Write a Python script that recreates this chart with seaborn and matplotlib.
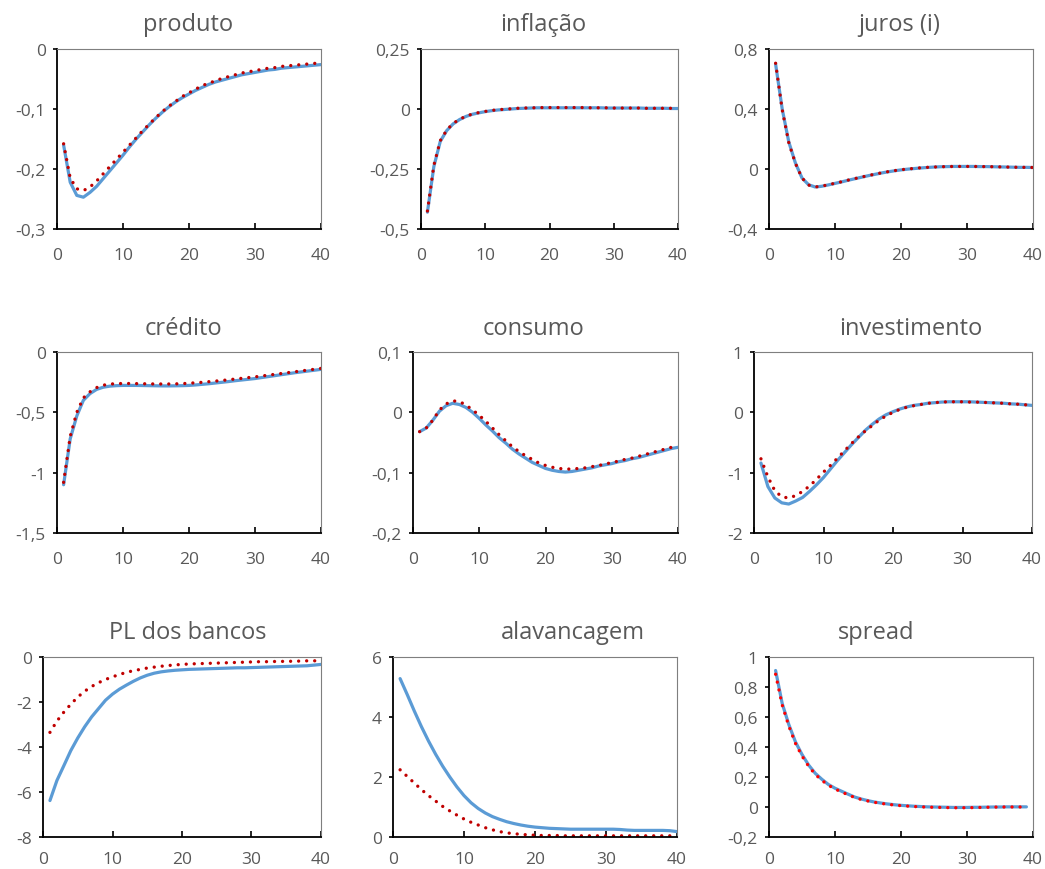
import numpy as np
import pandas as pd
import matplotlib
matplotlib.use("Agg")
import matplotlib.pyplot as plt
from matplotlib.ticker import FuncFormatter
import seaborn as sns

periodos = list(range(1, 41))

produto_azul = [-0.160, -0.222, -0.244, -0.247, -0.239, -0.229, -0.216, -0.203, -0.190, -0.177,
                -0.163, -0.150, -0.138, -0.126, -0.115, -0.105, -0.096, -0.088, -0.081, -0.075,
                -0.069, -0.064, -0.059, -0.055, -0.052, -0.049, -0.046, -0.043, -0.041, -0.039,
                -0.037, -0.035, -0.034, -0.032, -0.031, -0.030, -0.029, -0.028, -0.027, -0.026]
produto_verm = [-0.158, -0.215, -0.233, -0.236, -0.230, -0.220, -0.208, -0.196, -0.184, -0.172,
                -0.160, -0.148, -0.136, -0.125, -0.114, -0.104, -0.095, -0.087, -0.079, -0.073,
                -0.067, -0.061, -0.057, -0.053, -0.049, -0.046, -0.043, -0.040, -0.038, -0.036,
                -0.034, -0.032, -0.031, -0.029, -0.028, -0.027, -0.026, -0.025, -0.024, -0.023]

inflacao_azul = [-0.430, -0.240, -0.135, -0.090, -0.062, -0.044, -0.031, -0.022, -0.016, -0.011,
                 -0.007, -0.004, -0.002, 0.000, 0.002, 0.003, 0.004, 0.005, 0.005, 0.005,
                 0.005, 0.005, 0.005, 0.005, 0.005, 0.005, 0.005, 0.005, 0.004, 0.004,
                 0.004, 0.004, 0.004, 0.004, 0.003, 0.003, 0.003, 0.003, 0.002, 0.002]
inflacao_verm = [-0.425, -0.235, -0.132, -0.088, -0.060, -0.043, -0.030, -0.021, -0.015, -0.010,
                 -0.006, -0.003, -0.001, 0.001, 0.003, 0.004, 0.005, 0.005, 0.006, 0.006,
                 0.006, 0.006, 0.006, 0.006, 0.006, 0.005, 0.005, 0.005, 0.005, 0.004,
                 0.004, 0.004, 0.004, 0.004, 0.003, 0.003, 0.003, 0.003, 0.003, 0.002]

juros_azul = [0.700, 0.400, 0.180, 0.040, -0.060, -0.105, -0.120, -0.115, -0.106, -0.096,
              -0.086, -0.075, -0.065, -0.055, -0.045, -0.036, -0.027, -0.019, -0.012, -0.006,
              -0.001, 0.003, 0.007, 0.010, 0.013, 0.015, 0.016, 0.017, 0.017, 0.017,
              0.017, 0.016, 0.016, 0.015, 0.014, 0.013, 0.012, 0.011, 0.011, 0.010]
juros_verm = [0.705, 0.395, 0.175, 0.038, -0.060, -0.107, -0.120, -0.114, -0.105, -0.095,
              -0.085, -0.074, -0.064, -0.054, -0.044, -0.035, -0.026, -0.018, -0.011, -0.005,
              0.000, 0.004, 0.008, 0.011, 0.013, 0.015, 0.016, 0.017, 0.017, 0.017,
              0.017, 0.016, 0.016, 0.015, 0.014, 0.013, 0.012, 0.011, 0.011, 0.010]

credito_azul = [-1.100, -0.720, -0.530, -0.400, -0.345, -0.310, -0.292, -0.283, -0.279, -0.277,
                -0.277, -0.277, -0.278, -0.279, -0.280, -0.281, -0.281, -0.280, -0.279, -0.277,
                -0.273, -0.268, -0.263, -0.257, -0.251, -0.245, -0.238, -0.232, -0.226, -0.220,
                -0.212, -0.204, -0.196, -0.188, -0.180, -0.172, -0.165, -0.158, -0.151, -0.144]
credito_verm = [-1.080, -0.700, -0.500, -0.380, -0.330, -0.295, -0.275, -0.266, -0.262, -0.261,
                -0.261, -0.262, -0.263, -0.264, -0.265, -0.265, -0.265, -0.264, -0.262, -0.259,
                -0.255, -0.251, -0.246, -0.241, -0.236, -0.230, -0.224, -0.218, -0.212, -0.206,
                -0.199, -0.192, -0.185, -0.178, -0.171, -0.164, -0.157, -0.150, -0.143, -0.136]

consumo_azul = [-0.032, -0.026, -0.013, 0.002, 0.011, 0.015, 0.013, 0.008, 0.000, -0.010,
                -0.021, -0.031, -0.042, -0.051, -0.061, -0.069, -0.076, -0.083, -0.088, -0.093,
                -0.096, -0.098, -0.099, -0.098, -0.096, -0.094, -0.092, -0.089, -0.087, -0.085,
                -0.082, -0.080, -0.077, -0.075, -0.072, -0.069, -0.066, -0.063, -0.060, -0.058]
consumo_verm = [-0.032, -0.026, -0.013, 0.004, 0.014, 0.019, 0.018, 0.012, 0.004, -0.005,
                -0.015, -0.026, -0.037, -0.047, -0.057, -0.065, -0.072, -0.078, -0.084, -0.088,
                -0.091, -0.093, -0.094, -0.094, -0.093, -0.092, -0.090, -0.088, -0.086, -0.083,
                -0.081, -0.078, -0.076, -0.073, -0.070, -0.067, -0.064, -0.061, -0.058, -0.056]

investimento_azul = [-0.84, -1.23, -1.42, -1.50, -1.52, -1.47, -1.41, -1.31, -1.20, -1.08,
                     -0.94, -0.80, -0.67, -0.54, -0.42, -0.30, -0.20, -0.11, -0.04, 0.01,
                     0.055, 0.09, 0.115, 0.13, 0.15, 0.16, 0.17, 0.175, 0.175, 0.175,
                     0.175, 0.17, 0.165, 0.16, 0.155, 0.15, 0.14, 0.135, 0.125, 0.115]
investimento_verm = [-0.77, -1.07, -1.30, -1.40, -1.42, -1.38, -1.31, -1.22, -1.11, -0.99,
                     -0.88, -0.76, -0.64, -0.52, -0.41, -0.31, -0.22, -0.13, -0.06, 0.00,
                     0.05, 0.085, 0.11, 0.13, 0.15, 0.16, 0.17, 0.175, 0.175, 0.175,
                     0.17, 0.17, 0.165, 0.16, 0.155, 0.15, 0.14, 0.135, 0.125, 0.12]

pl_azul = [-6.38, -5.49, -4.83, -4.16, -3.60, -3.10, -2.66, -2.29, -1.92, -1.65,
           -1.43, -1.25, -1.08, -0.93, -0.81, -0.72, -0.66, -0.62, -0.59, -0.57,
           -0.55, -0.54, -0.53, -0.52, -0.51, -0.50, -0.49, -0.48, -0.48, -0.47,
           -0.46, -0.45, -0.44, -0.43, -0.42, -0.41, -0.40, -0.39, -0.36, -0.33]
pl_verm = [-3.35, -2.85, -2.45, -2.10, -1.78, -1.52, -1.31, -1.14, -1.00, -0.88,
           -0.78, -0.68, -0.61, -0.55, -0.49, -0.45, -0.41, -0.38, -0.35, -0.33,
           -0.31, -0.30, -0.29, -0.28, -0.27, -0.26, -0.25, -0.24, -0.23, -0.22,
           -0.21, -0.21, -0.20, -0.20, -0.19, -0.19, -0.18, -0.17, -0.17, -0.16]

alavancagem_azul = [5.28, 4.75, 4.20, 3.68, 3.20, 2.76, 2.36, 2.00, 1.67, 1.38,
                    1.14, 0.95, 0.80, 0.68, 0.59, 0.51, 0.45, 0.40, 0.36, 0.33,
                    0.31, 0.29, 0.28, 0.27, 0.26, 0.26, 0.26, 0.26, 0.26, 0.26,
                    0.26, 0.25, 0.23, 0.22, 0.22, 0.22, 0.22, 0.22, 0.21, 0.18]
alavancagem_verm = [2.24, 2.02, 1.80, 1.58, 1.38, 1.20, 1.02, 0.87, 0.73, 0.60,
                    0.49, 0.40, 0.31, 0.24, 0.18, 0.14, 0.11, 0.09, 0.07, 0.06,
                    0.05, 0.05, 0.05, 0.04, 0.04, 0.04, 0.04, 0.04, 0.04, 0.04,
                    0.04, 0.04, 0.04, 0.04, 0.04, 0.04, 0.04, 0.04, 0.04, 0.04]

spread_azul = [0.910, 0.690, 0.550, 0.435, 0.350, 0.280, 0.225, 0.185, 0.150, 0.125,
               0.105, 0.085, 0.066, 0.053, 0.042, 0.033, 0.026, 0.020, 0.015, 0.011,
               0.008, 0.005, 0.003, 0.001, 0.000, -0.001, -0.002, -0.003, -0.003, -0.003,
               -0.002, -0.002, -0.001, 0.000, 0.000, 0.001, 0.001, 0.001, 0.001]
spread_verm = [0.885, 0.680, 0.540, 0.425, 0.340, 0.272, 0.218, 0.178, 0.145, 0.120,
               0.100, 0.081, 0.063, 0.050, 0.040, 0.031, 0.024, 0.018, 0.013, 0.009,
               0.006, 0.003, 0.001, -0.001, -0.002, -0.003, -0.004, -0.005, -0.005, -0.005,
               -0.004, -0.003, -0.002, -0.001, 0.000, 0.000, 0.000, 0.000, 0.000]

titulos = ["produto", "inflação", "juros (i)", "crédito", "consumo", "investimento",
           "PL dos bancos", "alavancagem", "spread"]
series = [(produto_azul, produto_verm), (inflacao_azul, inflacao_verm), (juros_azul, juros_verm),
          (credito_azul, credito_verm), (consumo_azul, consumo_verm),
          (investimento_azul, investimento_verm), (pl_azul, pl_verm),
          (alavancagem_azul, alavancagem_verm), (spread_azul, spread_verm)]
yticks = [[-0.3, -0.2, -0.1, 0], [-0.5, -0.25, 0, 0.25], [-0.4, 0, 0.4, 0.8],
          [-1.5, -1, -0.5, 0], [-0.2, -0.1, 0, 0.1], [-2, -1, 0, 1],
          [-8, -6, -4, -2, 0], [0, 2, 4, 6], [-0.2, 0, 0.2, 0.4, 0.6, 0.8, 1]]

# posição dos painéis em pixels (esq, dir, topo, base) e centro dos títulos
W, H = 1045, 870
caixas = [(57, 321, 50, 230), (421, 678, 50, 230), (769, 1033, 50, 230),
          (57, 321, 353, 534), (413, 678, 353, 534), (754, 1032, 353, 534),
          (43, 321, 658, 838), (393, 677, 658, 838), (769, 1033, 658, 838)]
centros = [(188, 25), (543, 25), (899, 25), (183, 329), (533, 329), (911, 329),
           (188, 633), (573, 633), (876, 633)]

sns.set_style("white")
plt.rcParams["font.family"] = ["Open Sans", "DejaVu Sans"]
cinza = "#595959"
azul = "#5B9BD5"


def fmt_virgula(v, pos):
    v = round(v, 2)
    if v == 0:
        return "0"
    return f"{v:g}".replace(".", ",")


fig = plt.figure(figsize=(W / 100, H / 100), dpi=100)

for i, (tit, (az, vm), yt, cx, ct) in enumerate(zip(titulos, series, yticks, caixas, centros)):
    esq, dir_, topo, base = cx
    ax = fig.add_axes([esq / W, 1 - base / H, (dir_ - esq) / W, (base - topo) / H])
    n = len(az)
    df = pd.DataFrame({"periodo": periodos[:n], "azul": az, "vermelho": vm})
    verm_cor = "#FF0000" if tit == "spread" else "#C00000"
    sns.lineplot(data=df, x="periodo", y="azul", ax=ax, color=azul, linewidth=2.3,
                 solid_capstyle="round")
    sns.lineplot(data=df, x="periodo", y="vermelho", ax=ax, color=verm_cor, linewidth=2.4,
                 linestyle=(0, (0.01, 2.4)), dash_capstyle="round")
    ax.set_xlim(0, 40)
    ax.set_ylim(yt[0], yt[-1])
    ax.set_xticks([0, 10, 20, 30, 40])
    ax.set_yticks(yt)
    ax.yaxis.set_major_formatter(FuncFormatter(fmt_virgula))
    ax.set_xlabel("")
    ax.set_ylabel("")
    for lado in ["top", "right"]:
        ax.spines[lado].set_color("#7F7F7F")
        ax.spines[lado].set_linewidth(0.8)
    for lado in ["left", "bottom"]:
        ax.spines[lado].set_color("black")
        ax.spines[lado].set_linewidth(1.3)
    ax.tick_params(axis="y", direction="out", length=3, width=1.2, color="black",
                   labelsize=12.5, labelcolor=cinza, pad=5, left=True)
    pad_x = 10 if i >= 6 else 13
    ax.tick_params(axis="x", direction="in", length=4, width=1.2, color="black",
                   labelsize=12.5, labelcolor=cinza, pad=pad_x, bottom=True)
    fig.text(ct[0] / W, 1 - ct[1] / H, tit, ha="center", va="center",
             fontsize=17, color=cinza)

fig.savefig("out.png", dpi=100, facecolor="white")
